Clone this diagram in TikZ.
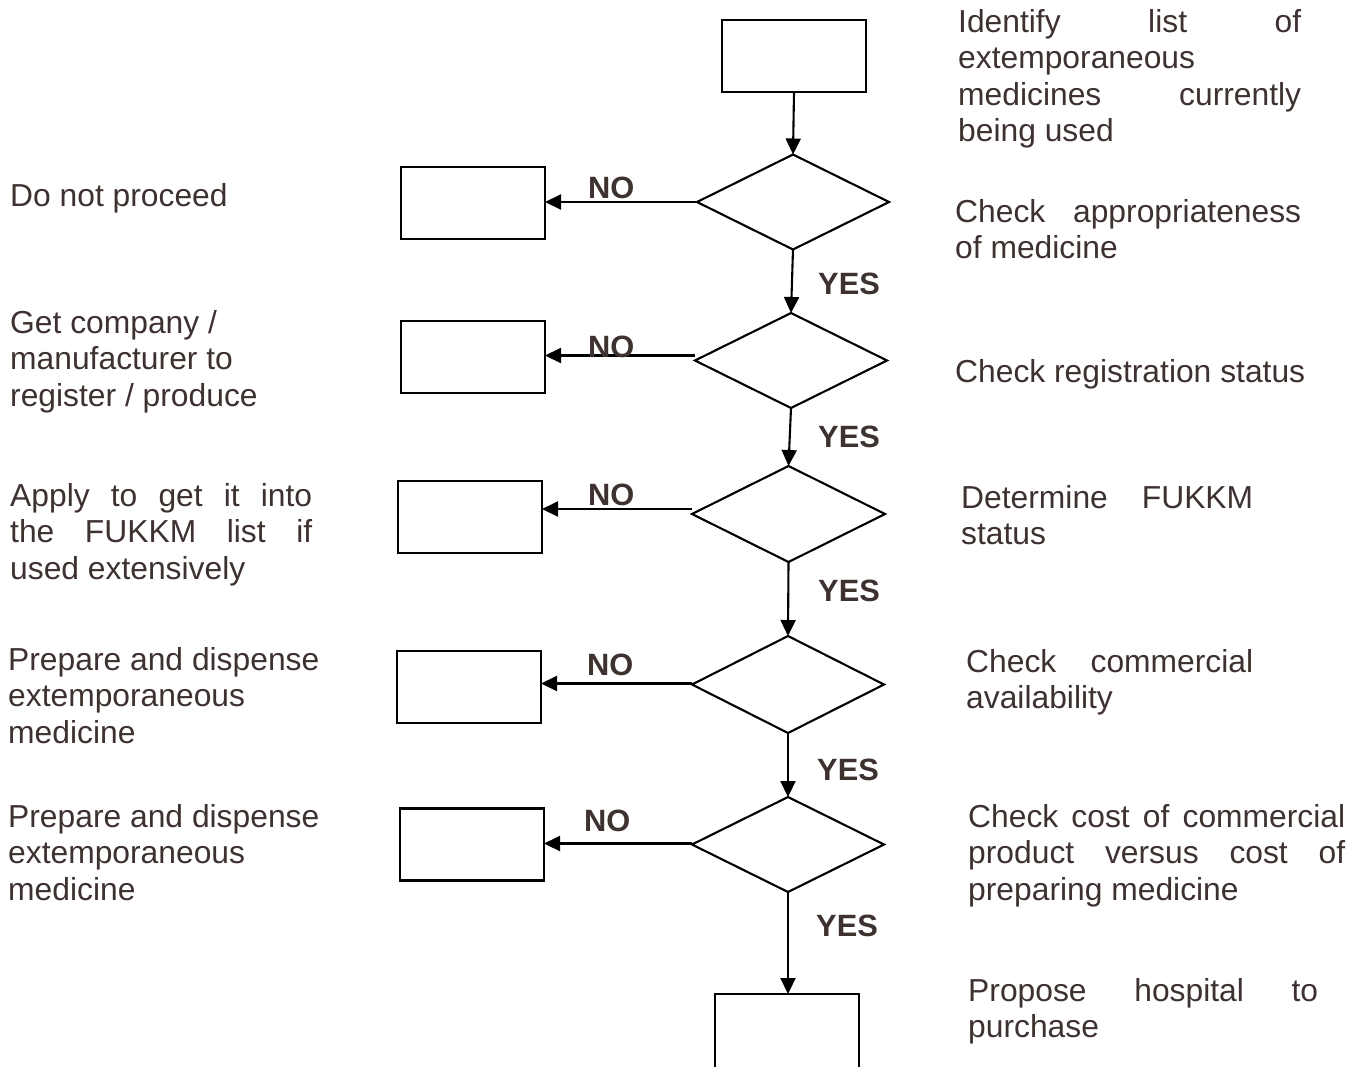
\documentclass[tikz,border=0pt]{standalone}
\usepackage{fontspec}
\setmainfont{Liberation Sans}
\usetikzlibrary{arrows.meta,shapes.geometric}
\definecolor{txtc}{HTML}{3E3230}
\tikzset{
  box/.style={draw, rectangle, line width=2.1pt, minimum width=144pt, minimum height=72pt, inner sep=0pt, outer sep=0pt},
  dec/.style={draw, diamond, line width=2.1pt, minimum width=192pt, minimum height=95pt, inner sep=0pt, outer sep=0pt},
  arr/.style={line width=2.1pt, -{Triangle[length=16pt,width=15pt]}},
  txt/.style={font=\fontsize{31.8}{36.6}\selectfont, text=txtc, inner sep=0pt, anchor=base west, align=left},
  lab/.style={font=\fontsize{30.8}{36}\selectfont\bfseries, text=txtc, inner sep=0pt, anchor=base west}
}
\begin{document}
\begin{tikzpicture}[x=1pt,y=-1pt]
\useasboundingbox (0,0) rectangle (1365,1066);
\clip (0,0) rectangle (1365,1066);
% boxes
\node[box] (top) at (794,56) {};
\node[box] (b1) at (473,203) {};
\node[box] (b2) at (473,357) {};
\node[box] (b3) at (470,517) {};
\node[box] (b4) at (469,687) {};
\node[box] (b5) at (472,844.5) {};
\node[box, minimum height=90pt] (b6) at (787,1039) {};
% decisions
\node[dec] (d1) at (793,202) {};
\node[dec] (d2) at (791,360.5) {};
\node[dec, minimum width=193pt, minimum height=96pt] (d3) at (788.5,514) {};
\node[dec, minimum height=97pt] (d4) at (788,684.5) {};
\node[dec] (d5) at (788,844.5) {};
% vertical connectors
\draw[arr] (top.south) -- (d1.north);
\draw[arr] (d1.south) -- (d2.north);
\draw[arr] (d2.south) -- (d3.north);
\draw[arr] (d3.south) -- (d4.north);
\draw[arr] (d4.south) -- (d5.north);
\draw[arr] (d5.south) -- (d5.south |- b6.north);
% NO connectors
\draw[arr] (d1.west) -- (d1.west -| b1.east);
\draw[arr] ([yshift=5pt]d2.west) -- ([yshift=5pt]d2.west -| b2.east);
\draw[arr] ([yshift=5pt]d3.west) -- ([yshift=5pt]d3.west -| b3.east);
\draw[arr] ([yshift=1pt]d4.west) -- ([yshift=1pt]d4.west -| b4.east);
\draw[arr] ([yshift=1pt]d5.west) -- ([yshift=1pt]d5.west -| b5.east);
% NO / YES labels
\node[lab] (no1) at (588,198) {NO};
\node[lab] (no2) at (588,357) {NO};
\node[lab] (no3) at (588,505) {NO};
\node[lab] (no4) at (587,675) {NO};
\node[lab] (no5) at (584,831) {NO};
\node[lab] (yes1) at (818,294) {YES};
\node[lab] (yes2) at (818,447) {YES};
\node[lab] (yes3) at (818,601) {YES};
\node[lab] (yes4) at (817,780) {YES};
\node[lab] (yes5) at (816,936) {YES};
% right texts (anchored at the baseline of the last line)
\node[txt] (r1) at (958,141.8) {\makebox[343pt][s]{Identify list of}\\extemporaneous\\\makebox[343pt][s]{medicines currently}\\being used};
\node[txt] (r2) at (955,258.6) {\makebox[346pt][s]{Check appropriateness}\\of medicine};
\node[txt] (r3) at (955,382) {Check registration status};
\node[txt] (r4) at (961,544.6) {\makebox[292pt][s]{Determine FUKKM}\\status};
\node[txt] (r5) at (966,708.6) {\makebox[287pt][s]{Check commercial}\\availability};
\node[txt] (r6) at (968,900.2) {\makebox[377pt][s]{Check cost of commercial}\\\makebox[377pt][s]{product versus cost of}\\preparing medicine};
\node[txt] (r7) at (968,1037.6) {\makebox[350pt][s]{Propose hospital to}\\purchase};
% left texts
\node[txt] (l1) at (10,206) {Do not proceed};
\node[txt] (l2) at (10,406.2) {Get company /\\manufacturer to\\register / produce};
\node[txt] (l3) at (10,579.2) {\makebox[302pt][s]{Apply to get it into}\\\makebox[302pt][s]{the FUKKM list if}\\used extensively};
\node[txt] (l4) at (8,743.2) {Prepare and dispense\\extemporaneous\\medicine};
\node[txt] (l5) at (8,900.2) {Prepare and dispense\\extemporaneous\\medicine};
\end{tikzpicture}
\end{document}
